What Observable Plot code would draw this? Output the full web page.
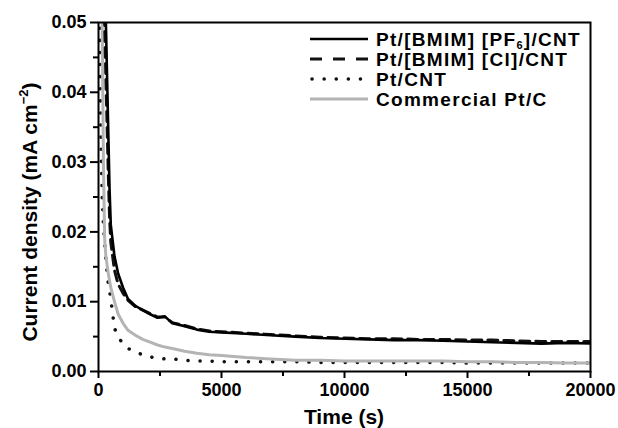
<!DOCTYPE html>
<html><head><meta charset="utf-8">
<script src="https://cdn.jsdelivr.net/npm/d3@7"></script>
<script src="https://cdn.jsdelivr.net/npm/@observablehq/plot@0.6"></script>
<style>
html,body{margin:0;padding:0;background:#fff;}
#chart{width:618px;height:428px;}
</style></head><body><div id="chart"></div>
<script>
// Time (s)
const time = [0, 50, 100, 150, 200, 250, 300, 400, 450, 500, 650, 800, 1000, 1200, 1500, 1800, 2100, 2400, 2700, 3000, 3500, 4000, 4500, 5000, 6000, 7000, 8000, 9000, 10000, 11000, 12000, 13000, 14000, 15000, 16000, 17000, 18000, 19000, 20000];
// Current density (mA cm^-2)
const pf6 = [0.2, 0.15, 0.11, 0.085, 0.07, 0.06, 0.05, 0.034, 0.026, 0.021, 0.0165, 0.0140, 0.0120, 0.0104, 0.0094, 0.0088, 0.0082, 0.0077, 0.0079, 0.0069, 0.0065, 0.0060, 0.0057, 0.0056, 0.0054, 0.0052, 0.0050, 0.0048, 0.0047, 0.0046, 0.0045, 0.0045, 0.0044, 0.0043, 0.0042, 0.0041, 0.0040, 0.0041, 0.0040];
const cl = [0.2, 0.14, 0.10, 0.075, 0.06, 0.05, 0.042, 0.028, 0.022, 0.0185, 0.0145, 0.0125, 0.0112, 0.0102, 0.0093, 0.0088, 0.0083, 0.0078, 0.0078, 0.0070, 0.0066, 0.0061, 0.0058, 0.0057, 0.0055, 0.0053, 0.0051, 0.0049, 0.0048, 0.0047, 0.0047, 0.0046, 0.0046, 0.0045, 0.0045, 0.0044, 0.0043, 0.0043, 0.0043];
const ptcnt = [0.2, 0.05, 0.033, 0.025, 0.021, 0.0185, 0.016, 0.0125, 0.0115, 0.0104, 0.0062, 0.0050, 0.0039, 0.0033, 0.0028, 0.0024, 0.0021, 0.0019, 0.0018, 0.0018, 0.0016, 0.0015, 0.0015, 0.0014, 0.0014, 0.0014, 0.0014, 0.0013, 0.0013, 0.0013, 0.0013, 0.0013, 0.0013, 0.0012, 0.0012, 0.0012, 0.0012, 0.0012, 0.0012];
const commercial = [0.2, 0.12, 0.07, 0.05, 0.03, 0.019, 0.0165, 0.0140, 0.0130, 0.0120, 0.0100, 0.0082, 0.0069, 0.0059, 0.0052, 0.0046, 0.0042, 0.0038, 0.0035, 0.0033, 0.0029, 0.0026, 0.0024, 0.0023, 0.0020, 0.0018, 0.0016, 0.0016, 0.0015, 0.0015, 0.0015, 0.0015, 0.0015, 0.0014, 0.0014, 0.0013, 0.0013, 0.0012, 0.0012];

const xTicks = [0, 5000, 10000, 15000, 20000];
const xMinor = [2500, 7500, 12500, 17500];
const yTicks = [0, 0.01, 0.02, 0.03, 0.04, 0.05];
const yMinor = [0.005, 0.015, 0.025, 0.035, 0.045];

const rows = vals => time.map((t, i) => ({t, v: vals[i]}));

const FONT = "'Liberation Sans', Arial, sans-serif";

const plot = Plot.plot({
  width: 618, height: 428,
  marginLeft: 98, marginRight: 28, marginTop: 22, marginBottom: 57,
  x: {domain: [0, 20000], label: null},
  y: {domain: [0, 0.05], label: null},
  style: {fontFamily: FONT, background: "white", color: "black"},
  marks: [
    Plot.line(rows(ptcnt), {x: "t", y: "v", stroke: "#111", strokeWidth: 3.5, strokeDasharray: "0.1 12", strokeLinecap: "round", clip: true}),
    Plot.line(rows(commercial), {x: "t", y: "v", stroke: "#b4b4b4", strokeWidth: 3, clip: true}),
    Plot.line(rows(cl), {x: "t", y: "v", stroke: "#111", strokeWidth: 3, strokeDasharray: "10 6", clip: true}),
    Plot.line(rows(pf6), {x: "t", y: "v", stroke: "#000", strokeWidth: 2.6, clip: true}),
    Plot.frame({stroke: "#000", strokeWidth: 2}),
    Plot.axisX({ticks: xTicks, tickSize: 7, tickPadding: 5, tickFormat: d => String(d), label: null, strokeWidth: 2}),
    Plot.axisX({ticks: xMinor, tickSize: 5, tickFormat: () => "", label: null, strokeWidth: 2}),
    Plot.axisY({ticks: yTicks, tickSize: 8, tickPadding: 4, tickFormat: d3.format(".2f"), label: null, strokeWidth: 2}),
    Plot.axisY({ticks: yMinor, tickSize: 5, tickFormat: () => "", label: null, strokeWidth: 2})
  ]
});

document.getElementById("chart").appendChild(plot);
const svg = d3.select(plot);

// Tick label styling (all texts produced by Plot are tick labels)
svg.selectAll("text")
  .style("font-size", "18px").style("font-weight", "bold").style("font-family", FONT)
  .attr("fill", "black");

// Axis titles
svg.append("text")
  .attr("x", 344).attr("y", 424)
  .attr("text-anchor", "middle")
  .style("font-family", FONT).style("font-size", "21px").style("font-weight", "bold")
  .attr("fill", "black")
  .text("Time (s)");

const yl = svg.append("text")
  .attr("transform", "translate(37,212) rotate(-90)")
  .attr("text-anchor", "middle")
  .style("font-family", FONT).style("font-size", "21px").style("font-weight", "bold")
  .attr("fill", "black");
yl.append("tspan").text("Current density (mA cm");
yl.append("tspan").style("font-size", "13px").attr("dy", -9).text("\u22122");
yl.append("tspan").attr("dy", 9).text(")");

// Legend
const legendNames = ["Pt/[BMIM] [PF6]/CNT", "Pt/[BMIM] [Cl]/CNT", "Pt/CNT", "Commercial Pt/C"];
const legendStyles = [
  {stroke: "#000", width: 2.6, dash: null, cap: "butt"},
  {stroke: "#111", width: 3, dash: "12 11", cap: "butt"},
  {stroke: "#111", width: 3.5, dash: "0.1 12", cap: "round"},
  {stroke: "#b4b4b4", width: 3, dash: null, cap: "butt"}
];
const lg = svg.append("g").attr("text-anchor", "start");
legendNames.forEach((name, i) => {
  const base = 46 + i * 20;
  const cy = base - 7;
  const st = legendStyles[i];
  const ln = lg.append("line")
    .attr("x1", i === 2 ? 312 : 310).attr("x2", 368)
    .attr("y1", cy).attr("y2", cy)
    .attr("stroke", st.stroke).attr("stroke-width", st.width)
    .attr("stroke-linecap", st.cap);
  if (st.dash) ln.attr("stroke-dasharray", st.dash);
  const t = lg.append("text")
    .attr("x", 376).attr("y", base)
    .attr("text-anchor", "start")
    .style("font-family", FONT).style("font-size", "19px").style("font-weight", "bold")
    .style("letter-spacing", "1.3px")
    .attr("fill", "black");
  if (i === 0) {
    t.append("tspan").text("Pt/[BMIM] [PF");
    t.append("tspan").style("font-size", "11px").attr("dy", 3).text("6");
    t.append("tspan").attr("dy", -3).text("]/CNT");
  } else {
    t.text(name);
  }
});
</script>
</body></html>
